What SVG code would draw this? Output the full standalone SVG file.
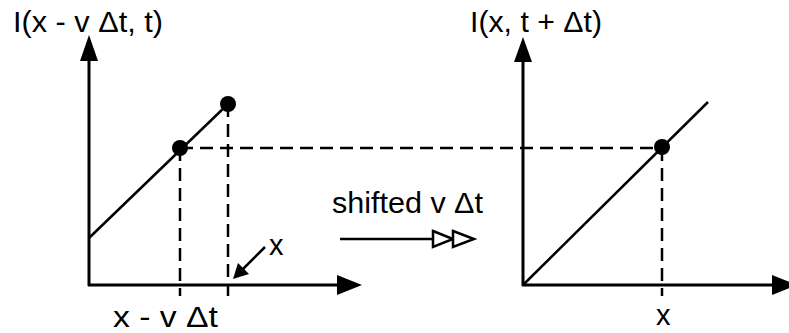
<svg xmlns="http://www.w3.org/2000/svg" width="789" height="333" viewBox="0 0 789 333">
<style>
text{font-family:"Liberation Sans",Arial,sans-serif;font-size:29px;fill:#000}
.axis{stroke:#000;stroke-width:3;fill:none}
.line{stroke:#000;stroke-width:2.5;fill:none}
.dash{stroke:#000;stroke-width:2.5;fill:none;stroke-dasharray:13 7}
.head{fill:#000;stroke:none}
.dot{fill:#000}
.open{fill:#fff;stroke:#000;stroke-width:2.5;stroke-linejoin:miter}
</style>
<rect width="789" height="333" fill="#fff"/>
<g id="connectors">
  <line class="dash" x1="180" y1="148" x2="662" y2="148"/>
  <line class="dash" x1="180" y1="148" x2="180" y2="296"/>
  <line class="dash" x1="228" y1="104" x2="228" y2="296"/>
  <line class="dash" x1="662" y1="148" x2="662" y2="296"/>
  <line class="line" x1="265" y1="247" x2="242" y2="270"/>
  <polygon class="head" points="233,279 238,263 249,274"/>
</g>
<g id="left-plot">
  <line class="axis" x1="89" y1="286" x2="89" y2="58"/>
  <polygon class="head" points="89,35 80,61 98,61"/>
  <line class="axis" x1="88" y1="285" x2="339" y2="285"/>
  <polygon class="head" points="362,285 337,275 337,295"/>
  <line class="line" x1="89" y1="238" x2="228" y2="104"/>
  <circle class="dot" cx="180" cy="148" r="8"/>
  <circle class="dot" cx="228" cy="104" r="8"/>
  <text x="13" y="32" textLength="150" lengthAdjust="spacingAndGlyphs">I(x - v Δt, t)</text>
  <text x="113" y="327" textLength="105" lengthAdjust="spacingAndGlyphs">x - v Δt</text>
  <text x="269" y="255">x</text>
</g>
<g id="shift-arrow">
  <line class="line" x1="340" y1="239" x2="433" y2="239"/>
  <polygon class="open" points="433,231 453,239 433,247"/>
  <polygon class="open" points="453,231 474,239 453,247"/>
  <text x="332" y="213" textLength="151" lengthAdjust="spacingAndGlyphs">shifted v Δt</text>
</g>
<g id="right-plot">
  <line class="axis" x1="523" y1="286" x2="523" y2="60"/>
  <polygon class="head" points="523,37 514,62 532,62"/>
  <line class="axis" x1="522" y1="285" x2="775" y2="285"/>
  <polygon class="head" points="797,285 772,275 772,295"/>
  <line class="line" x1="523" y1="285" x2="708" y2="102"/>
  <circle class="dot" cx="662" cy="147" r="8"/>
  <text x="470" y="32" textLength="132" lengthAdjust="spacingAndGlyphs">I(x, t + Δt)</text>
  <text x="656" y="325">x</text>
</g>
</svg>
